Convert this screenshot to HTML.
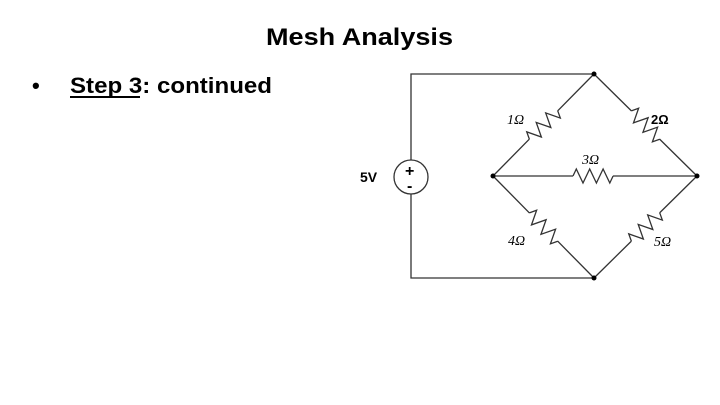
<!DOCTYPE html>
<html><head><meta charset="utf-8"><style>html,body{margin:0;padding:0;background:#fff;width:720px;height:405px;overflow:hidden}</style></head>
<body>
<svg width="720" height="405" viewBox="0 0 720 405" xmlns="http://www.w3.org/2000/svg" font-family="Liberation Sans, sans-serif">
<defs>
<path id="r" d="M-20,0 l3.3,-7 l6.7,14 l6.7,-14 l6.7,14 l6.7,-14 l6.7,14 l3.3,-7" fill="none" stroke="#333" stroke-width="1.3"/>
</defs>
<text x="266" y="45" font-size="24" font-weight="bold" textLength="187" lengthAdjust="spacingAndGlyphs">Mesh Analysis</text>
<text x="32" y="93" font-size="22" font-weight="bold">•</text>
<text x="70" y="93" font-size="22" font-weight="bold" textLength="202" lengthAdjust="spacingAndGlyphs">Step 3: continued</text>
<line x1="70" y1="97" x2="140" y2="97" stroke="#000" stroke-width="2"/>
<g stroke="#333" stroke-width="1.3" fill="none">
<polyline points="411,160 411,74 594,74"/>
<polyline points="411,194 411,278 594,278"/>
<circle cx="411" cy="177" r="17"/>
<line x1="493" y1="176" x2="529.4" y2="139.1"/><line x1="557.6" y1="110.9" x2="594" y2="74"/>
<line x1="594" y1="74" x2="631.4" y2="110.9"/><line x1="659.6" y1="139.1" x2="697" y2="176"/>
<line x1="493" y1="176" x2="529.4" y2="212.9"/><line x1="557.6" y1="241.1" x2="594" y2="278"/>
<line x1="594" y1="278" x2="631.4" y2="241.1"/><line x1="659.6" y1="212.9" x2="697" y2="176"/>
<line x1="493" y1="176" x2="573" y2="176"/><line x1="613" y1="176" x2="697" y2="176"/>
</g>
<use href="#r" transform="translate(543.5,125) rotate(-45)"/>
<use href="#r" transform="translate(645.5,125) rotate(45)"/>
<use href="#r" transform="translate(543.5,227) rotate(45)"/>
<use href="#r" transform="translate(645.5,227) rotate(-45)"/>
<use href="#r" transform="translate(593,176)"/>
<g fill="#000">
<circle cx="594" cy="74" r="2.5"/><circle cx="594" cy="278" r="2.5"/>
<circle cx="493" cy="176" r="2.5"/><circle cx="697" cy="176" r="2.5"/>
</g>
<text x="405" y="176" font-size="16" font-weight="bold">+</text>
<text x="407" y="191" font-size="16" font-weight="bold">-</text>
<text x="360" y="182" font-size="14" font-weight="bold">5V</text>
<g font-family="Liberation Serif, serif" font-style="italic" font-size="14">
<text x="507" y="124">1Ω</text>
<text x="651" y="124" font-weight="bold" font-family="Liberation Sans, sans-serif" font-style="normal" font-size="13">2Ω</text>
<text x="582" y="164">3Ω</text>
<text x="508" y="245">4Ω</text>
<text x="654" y="246">5Ω</text>
</g>
</svg>
</body></html>
